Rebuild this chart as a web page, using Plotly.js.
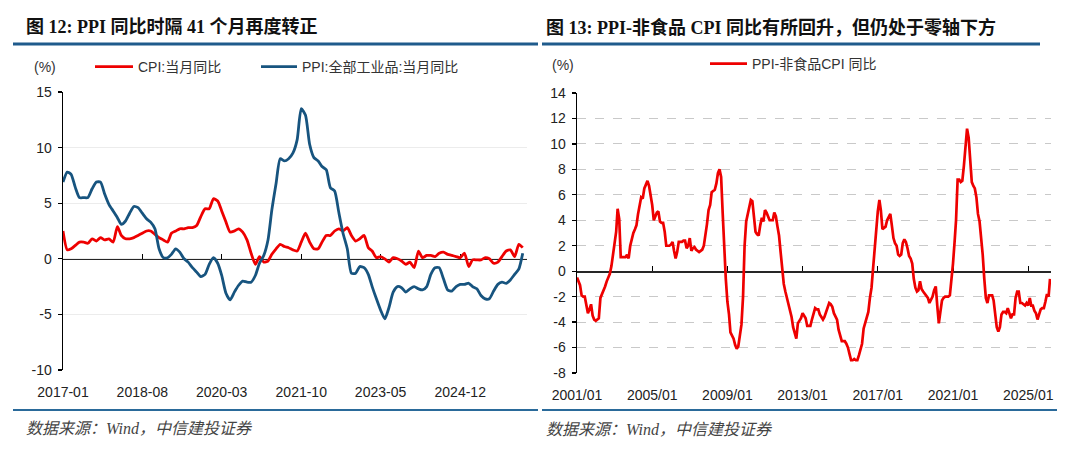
<!DOCTYPE html>
<html>
<head>
<meta charset="utf-8">
<script src="https://cdn.plot.ly/plotly-3.0.1.min.js"></script>
<style>
html,body{margin:0;padding:0;background:#fff;}
#chart{width:1080px;height:452px;}
</style>
</head>
<body>
<div id="chart"></div>
<script>
// ---------- DATA ----------
// Left chart: monthly, 2017-01 .. 2026-03
const leftStart = [2017, 1];
const cpiYoY = [
  2.5, 0.8, 0.9, 1.2, 1.5, 1.5, 1.4, 1.8, 1.6, 1.9, 1.7, 1.8,
  1.5, 2.9, 2.1, 1.8, 1.8, 1.9, 2.1, 2.3, 2.5, 2.5, 2.2, 1.9,
  1.7, 1.5, 2.3, 2.5, 2.7, 2.7, 2.8, 2.8, 3.0, 3.8, 4.5, 4.5,
  5.4, 5.2, 4.3, 3.3, 2.4, 2.5, 2.7, 2.4, 1.7, 0.5, -0.5, 0.2,
  -0.3, -0.2, 0.4, 0.9, 1.3, 1.1, 1.0, 0.8, 0.7, 1.5, 2.3, 1.5,
  0.9, 0.9, 1.5, 2.1, 2.1, 2.5, 2.7, 2.5, 2.8, 2.1, 1.6, 1.8,
  2.1, 1.0, 0.7, 0.1, 0.2, 0.0, -0.3, 0.1, 0.0, -0.2, -0.5, -0.3,
  -0.8, 0.7, 0.1, 0.3, 0.3, 0.2, 0.5, 0.6, 0.4, 0.3, 0.2, 0.1,
  0.5, -0.7, -0.1, -0.1, -0.1, 0.1, 0.0, -0.4, -0.3, 0.2, 0.7, 0.8,
  0.2, 1.3, 1.0
];
const ppiYoY = [
  6.9, 7.8, 7.6, 6.4, 5.5, 5.5, 5.5, 6.3, 6.9, 6.9, 5.8, 4.9,
  4.3, 3.7, 3.1, 3.4, 4.1, 4.7, 4.6, 4.1, 3.6, 3.3, 2.7, 0.9,
  0.1, 0.1, 0.4, 0.9, 0.6, 0.0, -0.3, -0.8, -1.2, -1.6, -1.4, -0.5,
  0.1, -0.4, -1.5, -3.1, -3.7, -3.0, -2.4, -2.0, -2.1, -2.1, -1.5, -0.4,
  0.3, 1.7, 4.4, 6.8, 9.0, 8.8, 9.0, 9.5, 10.7, 13.5, 12.9, 10.3,
  9.1, 8.8, 8.3, 8.0, 6.4, 6.1, 4.2, 2.3, 0.9, -1.3, -1.3, -0.7,
  -0.8, -1.4, -2.5, -3.6, -4.6, -5.4, -4.4, -3.0, -2.5, -2.6, -3.0, -2.7,
  -2.5, -2.7, -2.8, -2.5, -1.4, -0.8, -0.8, -1.8, -2.8, -2.9, -2.5, -2.3,
  -2.3, -2.2, -2.5, -2.7, -3.3, -3.6, -3.6, -2.9, -2.3, -2.1, -2.2, -1.9,
  -1.4, -0.9, 0.5
];
const leftTickVals = ['2017-01-01', '2018-08-01', '2020-03-01', '2021-10-01', '2023-05-01', '2024-12-01'];
const leftTickText = ['2017-01', '2018-08', '2020-03', '2021-10', '2023-05', '2024-12'];
const leftYTickVals = [-10, -5, 0, 5, 10, 15];
const leftYTickText = ['-10', '-5', '0', '5', '10', '15'];

// Right chart: monthly, 2001-01 .. 2026-03
const rightStart = [2001, 1];
const ppiMinusNonFoodCpi = [
  -0.5, -0.8, -1.1, -1.9, -2.0, -2.0, -2.6, -3.3, -3.0, -2.6, -3.5, -3.8,
  -3.9, -3.8, -3.7, -2.1, -1.8, -1.6, -1.2, -0.8, -0.5, -0.2, 0.4, 1.2,
  2.0, 3.1, 4.9, 4.1, 1.1, 1.1, 1.1, 1.1, 1.3, 1.0, 2.0, 2.6,
  3.0, 3.3, 3.6, 4.5, 5.2, 5.8, 5.7, 6.5, 6.8, 7.1, 6.7, 6.0,
  5.2, 4.0, 4.3, 4.6, 4.7, 3.9, 3.8, 3.8, 3.1, 2.0, 2.0, 2.0,
  2.1, 2.3, 1.6, 1.0, 1.5, 2.3, 2.3, 2.3, 2.4, 2.4, 1.8, 2.0,
  2.6, 1.6, 1.8, 1.9, 1.7, 1.6, 1.5, 1.6, 1.7, 2.0, 2.8, 3.7,
  4.8, 5.2, 6.2, 6.3, 6.4, 6.9, 7.7, 8.0, 7.4, 4.6, 1.5, -0.6,
  -2.4, -3.4, -4.8, -5.0, -5.3, -5.8, -6.1, -5.9, -5.0, -4.2, -2.0, 2.0,
  3.9, 4.4, 4.9, 5.6, 5.5, 4.4, 3.1, 2.9, 2.8, 3.6, 4.2, 3.9,
  4.8, 4.6, 4.3, 4.0, 4.0, 4.0, 4.6, 4.3, 3.5, 2.8, 1.5, 0.3,
  -1.0, -1.6, -2.1, -2.5, -2.9, -3.6, -4.4, -4.8, -5.3, -4.1, -3.9, -3.7,
  -3.3, -3.5, -3.7, -4.3, -4.3, -4.3, -3.8, -3.3, -2.9, -3.0, -3.0, -3.4,
  -3.6, -3.8, -3.6, -3.2, -2.8, -2.5, -2.6, -2.8, -3.3, -3.5, -3.8, -4.6,
  -5.0, -5.5, -5.5, -5.5, -5.7, -6.0, -6.5, -7.0, -7.0, -6.9, -7.0, -7.0,
  -6.6, -6.1, -5.7, -4.5, -4.0, -3.5, -3.2, -2.1, -1.3, 0.2, 1.8, 3.6,
  4.7, 5.6, 4.8, 3.3, 3.4, 3.5, 4.0, 4.2, 4.5, 3.6, 2.6, 2.2,
  2.0, 1.3, 1.2, 1.3, 2.2, 2.5, 2.3, 1.8, 1.2, 1.0, 0.6, -0.6,
  -1.3, -1.6, -1.5, -0.8, -1.4, -1.6, -1.8, -2.0, -2.1, -2.5, -2.2, -2.0,
  -1.5, -1.2, -2.7, -4.1, -3.2, -2.3, -2.1, -2.0, -2.0, -2.0, -1.9, -0.8,
  0.6, 2.3, 4.0, 7.2, 7.2, 7.0, 7.1, 8.3, 10.0, 11.2, 10.5, 8.6,
  7.0, 6.7, 6.5, 5.8, 4.5, 3.9, 2.8, 1.3, -0.6, -2.1, -2.5, -1.9,
  -1.9, -1.9, -2.3, -3.4, -4.4, -4.75, -4.4, -3.4, -3.2, -3.2, -3.3, -2.9,
  -3.3, -3.7, -3.4, -3.4, -2.1, -1.6, -1.6, -2.5, -2.5, -2.6, -2.7, -2.5,
  -2.7, -2.1, -2.7, -2.7, -3.1, -3.3, -3.8, -3.4, -3.0, -2.9, -2.9, -2.4,
  -1.8, -2.0, -0.6
];
const rightTickVals = ['2001-01-01', '2005-01-01', '2009-01-01', '2013-01-01', '2017-01-01', '2021-01-01', '2025-01-01'];
const rightTickText = ['2001/01', '2005/01', '2009/01', '2013/01', '2017/01', '2021/01', '2025/01'];
const rightYTickVals = [-8, -6, -4, -2, 0, 2, 4, 6, 8, 10, 12, 14];
const rightYTickText = ['-8', '-6', '-4', '-2', '0', '2', '4', '6', '8', '10', '12', '14'];

const seriesNames = ['CPI:当月同比', 'PPI:全部工业品:当月同比', 'PPI-非食品CPI 同比'];
const titles = ['图 12: PPI 同比时隔 41 个月再度转正', '图 13: PPI-非食品 CPI 同比有所回升，但仍处于零轴下方'];
const sourceText = '数据来源：Wind，中信建投证券';

// ---------- helpers ----------
function monthSeq(start, n) {
  const out = [];
  let y = start[0], m = start[1];
  for (let i = 0; i < n; i++) {
    out.push(y + '-' + String(m).padStart(2, '0') + '-01');
    m++; if (m > 12) { m = 1; y++; }
  }
  return out;
}
const W = 1080, H = 452;
const px = v => v / W;
const py = v => 1 - v / H;

const leftDates = monthSeq(leftStart, cpiYoY.length);
const rightDates = monthSeq(rightStart, ppiMinusNonFoodCpi.length);

const RED = 'rgb(238,0,0)';
const BLUE = '#17547f';
const FONT = 'Liberation Sans, Arial, Noto Sans CJK SC, sans-serif';
const TITLEFONT = 'Liberation Serif, Times New Roman, Noto Sans CJK SC, serif';

const traces = [
  // invisible helpers so the zero-position tick axes get drawn
  {x: leftDates, y: cpiYoY, type: 'scatter', mode: 'lines', opacity: 0, line: {width: 0},
   xaxis: 'x3', yaxis: 'y', showlegend: false, hoverinfo: 'skip'},
  {x: rightDates, y: ppiMinusNonFoodCpi, type: 'scatter', mode: 'lines', opacity: 0, line: {width: 0},
   xaxis: 'x4', yaxis: 'y2', showlegend: false, hoverinfo: 'skip'},
  {x: leftDates, y: cpiYoY, name: seriesNames[0], type: 'scatter', mode: 'lines',
   line: {color: RED, width: 2.8, shape: 'spline', smoothing: 0.6}, xaxis: 'x', yaxis: 'y', legend: 'legend', hoverinfo: 'skip'},
  {x: leftDates, y: ppiYoY, name: seriesNames[1], type: 'scatter', mode: 'lines',
   line: {color: BLUE, width: 2.8, shape: 'spline', smoothing: 0.6}, xaxis: 'x', yaxis: 'y', legend: 'legend3', hoverinfo: 'skip'},
  {x: rightDates, y: ppiMinusNonFoodCpi, name: seriesNames[2], type: 'scatter', mode: 'lines',
   line: {color: RED, width: 2.7}, xaxis: 'x2', yaxis: 'y2', legend: 'legend2', hoverinfo: 'skip'}
];

const leftXRange = ['2017-01-01', '2026-04-01'];
const rightXRange = ['2001-01-01', '2026-03-20'];
const lyDom = [py(370), py(92)];
const ryDom = [py(373), py(93)];
const lxDom = [px(63), px(527)];
const rxDom = [px(577), px(1051)];

const tickFont = {family: FONT, size: 14, color: '#222'};
const legFont = {family: FONT, size: 14, color: '#333'};

const layout = {
  width: W, height: H,
  margin: {l: 0, r: 0, t: 0, b: 0, pad: 0},
  paper_bgcolor: '#fff', plot_bgcolor: 'rgba(0,0,0,0)',
  showlegend: true,
  xaxis: {type: 'date', domain: lxDom, range: leftXRange, anchor: 'y',
    tickvals: leftTickVals, ticktext: leftTickText, ticks: 'outside', ticklen: 9, tickcolor: 'rgba(0,0,0,0)',
    showline: false, showgrid: false, zeroline: false, tickfont: tickFont, automargin: false},
  yaxis: {domain: lyDom, range: [-10, 15], anchor: 'x', tickvals: leftYTickVals, ticktext: leftYTickText,
    ticks: 'outside', ticklen: 4, tickcolor: '#000', tickwidth: 1.2,
    showline: true, linecolor: '#000', linewidth: 1.4,
    showgrid: true, gridcolor: '#ececec', gridwidth: 1, zeroline: false,
    tickfont: tickFont, automargin: false, ticklabelstandoff: 3},
  xaxis3: {type: 'date', overlaying: 'x', anchor: 'free', position: lyDom[0] + 0.4 * (lyDom[1] - lyDom[0]),
    domain: lxDom, range: leftXRange, tickvals: leftTickVals, showticklabels: false,
    ticks: 'inside', ticklen: 5, tickcolor: '#000', tickwidth: 1.2,
    showline: true, linecolor: '#262626', linewidth: 1.5, showgrid: false, zeroline: false,
    layer: 'below traces', automargin: false},
  xaxis2: {type: 'date', domain: rxDom, range: rightXRange, anchor: 'y2',
    tickvals: rightTickVals, ticktext: rightTickText, ticks: 'outside', ticklen: 9, tickcolor: 'rgba(0,0,0,0)',
    showline: false, showgrid: false, zeroline: false, tickfont: tickFont, automargin: false},
  yaxis2: {domain: ryDom, range: [-8, 14], anchor: 'x2', tickvals: rightYTickVals, ticktext: rightYTickText,
    ticks: 'outside', ticklen: 4, tickcolor: '#000', tickwidth: 1.2,
    showline: true, linecolor: '#000', linewidth: 1.4,
    showgrid: true, gridcolor: '#c9c9c9', gridwidth: 1, griddash: 'dash', zeroline: false,
    tickfont: tickFont, automargin: false, ticklabelstandoff: 3},
  xaxis4: {type: 'date', overlaying: 'x2', anchor: 'free', position: ryDom[0] + (8 / 22) * (ryDom[1] - ryDom[0]),
    domain: rxDom, range: rightXRange, tickvals: rightTickVals, showticklabels: false,
    ticks: 'inside', ticklen: 5, tickcolor: '#000', tickwidth: 1.2,
    showline: true, linecolor: '#262626', linewidth: 1.5, showgrid: false, zeroline: false,
    layer: 'below traces', automargin: false},
  legend: {orientation: 'h', x: px(90), y: py(67), xanchor: 'left', yanchor: 'middle',
    font: legFont, bgcolor: 'rgba(0,0,0,0)', itemwidth: 38},
  legend3: {orientation: 'h', x: px(256), y: py(67), xanchor: 'left', yanchor: 'middle',
    font: legFont, bgcolor: 'rgba(0,0,0,0)', itemwidth: 36},
  legend2: {orientation: 'h', x: px(705), y: py(64), xanchor: 'left', yanchor: 'middle',
    font: legFont, bgcolor: 'rgba(0,0,0,0)', itemwidth: 37},
  annotations: [
    {text: '<b>' + titles[0] + '</b>', x: px(24), y: py(27), xref: 'paper', yref: 'paper', xanchor: 'left', yanchor: 'middle',
     showarrow: false, font: {family: TITLEFONT, size: 18, color: '#111'}},
    {text: '<b>' + titles[1] + '</b>', x: px(544), y: py(27), xref: 'paper', yref: 'paper', xanchor: 'left', yanchor: 'middle',
     showarrow: false, font: {family: TITLEFONT, size: 18, color: '#111'}},
    {text: '(%)', x: px(45), y: py(67), xref: 'paper', yref: 'paper', xanchor: 'center', yanchor: 'middle',
     showarrow: false, font: legFont},
    {text: '(%)', x: px(563), y: py(65), xref: 'paper', yref: 'paper', xanchor: 'center', yanchor: 'middle',
     showarrow: false, font: legFont},
    {text: '<i>' + sourceText + '</i>', x: px(24), y: py(428), xref: 'paper', yref: 'paper', xanchor: 'left', yanchor: 'middle',
     showarrow: false, font: {family: TITLEFONT, size: 16, color: '#444'}},
    {text: '<i>' + sourceText + '</i>', x: px(544), y: py(429), xref: 'paper', yref: 'paper', xanchor: 'left', yanchor: 'middle',
     showarrow: false, font: {family: TITLEFONT, size: 16, color: '#444'}}
  ],
  shapes: [
    {type: 'line', xref: 'paper', yref: 'paper', x0: px(13), x1: px(538), y0: py(44), y1: py(44), line: {color: '#1f5b8c', width: 3}},
    {type: 'line', xref: 'paper', yref: 'paper', x0: px(542), x1: px(1040), y0: py(44), y1: py(44), line: {color: '#1f5b8c', width: 3}},
    {type: 'line', xref: 'paper', yref: 'paper', x0: px(13), x1: px(538), y0: py(410), y1: py(410), line: {color: '#2a6a9a', width: 1.8}},
    {type: 'line', xref: 'paper', yref: 'paper', x0: px(542), x1: px(1057), y0: py(410), y1: py(410), line: {color: '#2a6a9a', width: 1.8}}
  ]
};

Plotly.newPlot('chart', traces, layout, {staticPlot: true, displayModeBar: false});
</script>
</body>
</html>
